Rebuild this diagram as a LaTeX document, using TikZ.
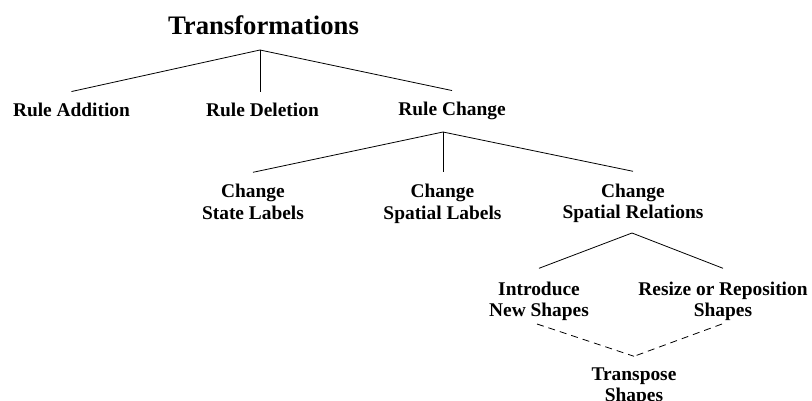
\documentclass[tikz,border=0pt]{standalone}
\usepackage{fontspec}
\setmainfont{Liberation Serif}
\newcommand{\twoline}[2]{\begin{tabular}[t]{@{}c@{}}#1\\#2\end{tabular}}
\begin{document}
\begin{tikzpicture}[x=1pt,y=-1pt,
  lab/.style={font=\fontsize{19.4}{21}\selectfont\bfseries, inner sep=0pt, anchor=base, outer ysep=12pt},
  lab2/.style={lab, outer ysep=11pt},
  ttl/.style={font=\fontsize{26.7}{30}\selectfont\bfseries, inner sep=0pt, anchor=base},
  conn/.style={line width=0.8pt},
  dconn/.style={line width=0.8pt, dash pattern=on 7pt off 5pt}]
\useasboundingbox (0,0) rectangle (812,401);
\node[ttl] (title) at (263.5,35) {Transformations};
\node[lab] (add) at (71.5,117) {Rule Addition};
\node[lab] (del) at (262.5,117) {Rule Deletion};
\node[lab] (chg) at (452,116) {Rule Change};
\node[lab2] (csl) at (253,198) {\twoline{Change}{State Labels}};
\node[lab2] (cspl) at (442.5,198) {\twoline{Change}{Spatial Labels}};
\node[lab2] (csr) at (633,197) {\twoline{Change}{Spatial Relations}};
\node[lab] (ins) at (539,295) {\twoline{Introduce}{New Shapes}};
\node[lab] (rrs) at (723,295) {\twoline{Resize or Reposition}{Shapes}};
\node[lab, outer ysep=9pt] (tra) at (634,380) {\twoline{Transpose}{Shapes}};
\coordinate (j1) at (260,50);
\coordinate (j2) at (443,132);
\coordinate (j3) at (632,233);
\coordinate (ins-b) at (537,324);
\coordinate (rrs-b) at (722,324);
\draw[conn] (j1) -- (add.north);
\draw[conn] (j1) -- (del.north -| j1);
\draw[conn] (j1) -- (chg.north);
\draw[conn] (j2) -- (csl.north);
\draw[conn] (j2) -- (cspl.north -| j2);
\draw[conn] (j2) -- (csr.north);
\draw[conn] (j3) -- (ins.north);
\draw[conn] (j3) -- (rrs.north);
\draw[dconn] (ins-b) -- (tra.north);
\draw[dconn] (rrs-b) -- (tra.north);
\end{tikzpicture}
\end{document}
